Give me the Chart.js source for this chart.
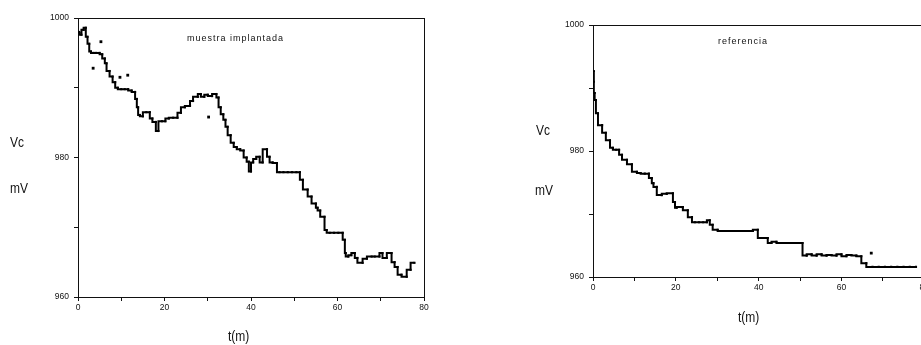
<!DOCTYPE html>
<html>
<head>
<meta charset="utf-8">
<script src="https://cdn.jsdelivr.net/npm/chart.js@4"></script>
<style>
  html, body { margin: 0; padding: 0; background: #fff; overflow: hidden; }
  body { width: 921px; height: 345px; position: relative; font-family: "Liberation Sans", Arial, sans-serif; }
  .box { position: absolute; top: 0; height: 345px; }
  .lbl { position: absolute; font-family: "Liberation Sans", Arial, sans-serif; font-size: 15px; color: #111; line-height: 1; white-space: nowrap; transform: scaleX(0.8); transform-origin: left top; }
  .ttl { position: absolute; font-size: 9px; letter-spacing: 1px; color: #111; line-height: 1; white-space: nowrap; }
</style>
</head>
<body>
<div class="box" style="left:0;width:432px"><canvas id="leftChart"></canvas></div>
<div class="box" style="left:515px;width:416px"><canvas id="rightChart"></canvas></div>

<div class="lbl" style="left:10px;top:134px">Vc</div>
<div class="lbl" style="left:10px;top:180px">mV</div>
<div class="lbl" style="left:228px;top:328px">t(m)</div>
<div class="ttl" style="left:187px;top:34px">muestra implantada</div>

<div class="lbl" style="left:536px;top:122px">Vc</div>
<div class="lbl" style="left:535px;top:182px">mV</div>
<div class="lbl" style="left:738px;top:309px">t(m)</div>
<div class="ttl" style="left:718px;top:37px">referencia</div>

<script>
// Axis ranges and labelled ticks
const xTicks = [0, 20, 40, 60, 80];
const yTicks = [960, 980, 1000];

// Left panel: muestra implantada (t in min, Vc in mV)
const implT = [0.3, 0.8, 1.3, 1.8, 2.2, 2.6, 3.0, 3.6, 4.2, 5.0, 5.6, 6.2, 6.6, 7.3, 8.0, 8.6, 9.2, 10.0, 10.8, 11.6,
  12.4, 13.2, 13.6, 13.9, 14.3, 15.0, 15.8, 16.6, 17.2, 18.0, 18.6, 19.4, 20.2, 21.0, 22.0, 23.0, 23.8, 24.7, 25.9, 26.6,
  27.7, 28.4, 29.2, 30.0, 31.0, 32.0, 32.5, 33.0, 33.6, 34.1, 34.6, 35.3, 36.0, 36.7, 37.5, 38.3, 39.0, 39.5, 40.0, 40.5,
  41.2, 42.0, 42.7, 43.7, 44.3, 45.0, 46.0, 46.6, 47.5, 48.5, 49.5, 50.5, 51.3, 52.0, 53.1, 54.0, 55.0, 55.4, 56.0, 57.0,
  57.5, 58.2, 59.2, 60.2, 61.2, 61.7, 61.9, 62.5, 63.2, 64.0, 64.6, 65.8, 66.8, 67.9, 68.6, 69.7, 70.4, 71.4, 72.5, 73.2,
  73.9, 74.8, 76.0, 76.9, 77.8];
const implV = [998.0, 997.6, 998.3, 998.6, 997.3, 996.3, 995.2, 995.0, 995.0, 995.0, 994.8, 994.2, 993.5, 992.4, 991.6, 990.8, 990.0, 989.8, 989.8, 989.8,
  989.6, 989.4, 988.4, 987.2, 986.1, 985.9, 986.5, 986.5, 985.6, 985.1, 983.8, 985.2, 985.2, 985.6, 985.7, 985.7, 986.4, 987.2, 987.4, 988.1,
  988.7, 989.1, 988.7, 989.0, 988.8, 989.1, 988.6, 987.2, 986.2, 985.4, 984.4, 983.2, 982.1, 981.5, 981.2, 981.0, 980.0, 979.4, 978.0, 979.3,
  979.8, 980.1, 979.3, 981.2, 980.1, 979.3, 979.2, 977.9, 977.9, 977.9, 977.9, 977.9, 977.9, 976.8, 975.4, 974.4, 973.4, 972.8, 972.4, 971.5,
  969.6, 969.2, 969.2, 969.2, 969.2, 968.2, 966.3, 965.8, 966.0, 966.3, 965.6, 964.9, 965.5, 965.8, 965.8, 965.8, 966.3, 965.6, 966.3, 965.0,
  964.3, 963.2, 962.9, 963.9, 964.9];
// isolated readings
const implStrayT = [3.5, 5.3, 9.7, 11.5, 30.2];
const implStrayV = [992.8, 996.6, 991.5, 991.8, 985.8];

// Right panel: referencia
const refT = [0.2, 0.2, 0.4, 0.7, 1.2, 2.2, 3.1, 4.1, 4.8, 5.6, 6.3, 7.0, 8.2, 9.4, 10.6, 11.5, 12.5, 13.5, 14.2, 14.6,
  15.4, 16.6, 17.8, 19.3, 19.8, 20.2, 21.7, 22.9, 23.9, 24.6, 25.6, 26.6, 27.5, 28.2, 28.9, 30.1, 31.5, 33.0, 34.5, 36.0,
  37.5, 38.6, 39.8, 41.4, 42.2, 43.1, 44.3, 45.8, 47.0, 48.3, 49.5, 50.6, 51.6, 52.8, 54.0, 55.2, 56.4, 57.6, 58.8, 60.0,
  61.2, 62.4, 63.6, 64.8, 66.0, 67.5, 69.0, 70.5, 72.0, 73.5, 75.0, 76.5, 78.0];
const refV = [992.7, 991.0, 989.2, 988.1, 986.0, 984.1, 982.9, 981.7, 980.5, 980.2, 980.2, 979.4, 978.6, 977.9, 976.7, 976.5, 976.4, 976.4, 975.7, 974.9,
  974.3, 973.0, 973.2, 973.3, 971.9, 971.0, 971.1, 970.6, 969.5, 968.7, 968.7, 968.7, 968.7, 969.0, 968.3, 967.5, 967.3, 967.3, 967.3, 967.3,
  967.3, 967.3, 967.5, 966.2, 966.2, 965.4, 965.6, 965.4, 965.4, 965.4, 965.4, 965.4, 963.4, 963.6, 963.4, 963.6, 963.4, 963.5, 963.4, 963.6,
  963.3, 963.5, 963.4, 963.3, 962.2, 961.6, 961.6, 961.6, 961.6, 961.6, 961.6, 961.6, 961.6];
const refStrayT = [67.2];
const refStrayV = [963.8];

function toPoints(xs, ys) {
    return xs.map((x, i) => ({ x: x, y: ys[i] }));
}

/**
 * Build one panel; sizes fix the plot area inside its canvas
 */
function buildPanel(canvasId, xs, ys, strayX, strayY, geom) {
    const canvas = document.getElementById(canvasId);
    canvas.width = geom.w;
    canvas.height = geom.h;
    canvas.style.width = geom.w + 'px';
    canvas.style.height = geom.h + 'px';

    const tickFont = { family: '"Liberation Sans", Arial, sans-serif', size: 8.5 };
    const frame = { display: true, color: '#111', width: 1 };

    return new Chart(canvas.getContext('2d'), {
        type: 'line',
        data: {
            datasets: [{
                data: toPoints(xs, ys),
                borderColor: '#000',
                backgroundColor: '#000',
                borderWidth: 2,
                stepped: 'after',
                pointStyle: 'rect',
                pointRadius: 1.5,
                pointBorderWidth: 0
            }, {
                data: toPoints(strayX, strayY),
                showLine: false,
                backgroundColor: '#000',
                pointStyle: 'rect',
                pointRadius: 2,
                pointBorderWidth: 0
            }]
        },
        options: {
            responsive: false,
            animation: false,
            devicePixelRatio: 1,
            layout: { padding: { top: geom.top, right: geom.right, left: 0, bottom: 0 } },
            plugins: { legend: { display: false }, tooltip: { enabled: false } },
            scales: {
                x: {
                    type: 'linear', min: 0, max: 80,
                    afterFit: s => { s.height = geom.xh; },
                    border: frame,
                    grid: { drawOnChartArea: false, tickLength: 4, color: '#111' },
                    ticks: {
                        stepSize: 10, autoSkip: false, maxRotation: 0, padding: 2,
                        color: '#111', font: tickFont,
                        callback: v => xTicks.includes(v) ? String(v) : ''
                    }
                },
                y: {
                    type: 'linear', min: 960, max: 1000,
                    afterFit: s => { s.width = geom.yw; },
                    border: frame,
                    grid: { drawOnChartArea: false, tickLength: 4, color: '#111' },
                    ticks: {
                        stepSize: 10, autoSkip: false, padding: 5,
                        color: '#111', font: tickFont,
                        callback: v => yTicks.includes(v) ? String(v) : ''
                    }
                },
                x2: {
                    type: 'linear', position: 'top', min: 0, max: 80,
                    afterFit: s => { s.height = 0; },
                    border: frame,
                    grid: { drawOnChartArea: false, drawTicks: false },
                    ticks: { display: false }
                },
                y2: {
                    type: 'linear', position: 'right', min: 960, max: 1000,
                    afterFit: s => { s.width = 0; },
                    border: frame,
                    grid: { drawOnChartArea: false, drawTicks: false },
                    ticks: { display: false }
                }
            }
        }
    });
}

buildPanel('leftChart', implT, implV, implStrayT, implStrayV,
    { w: 432, h: 345, top: 18, right: 8, yw: 78, xh: 48 });
buildPanel('rightChart', refT, refV, refStrayT, refStrayV,
    { w: 416, h: 345, top: 25, right: 6, yw: 78, xh: 68 });
</script>
</body>
</html>
